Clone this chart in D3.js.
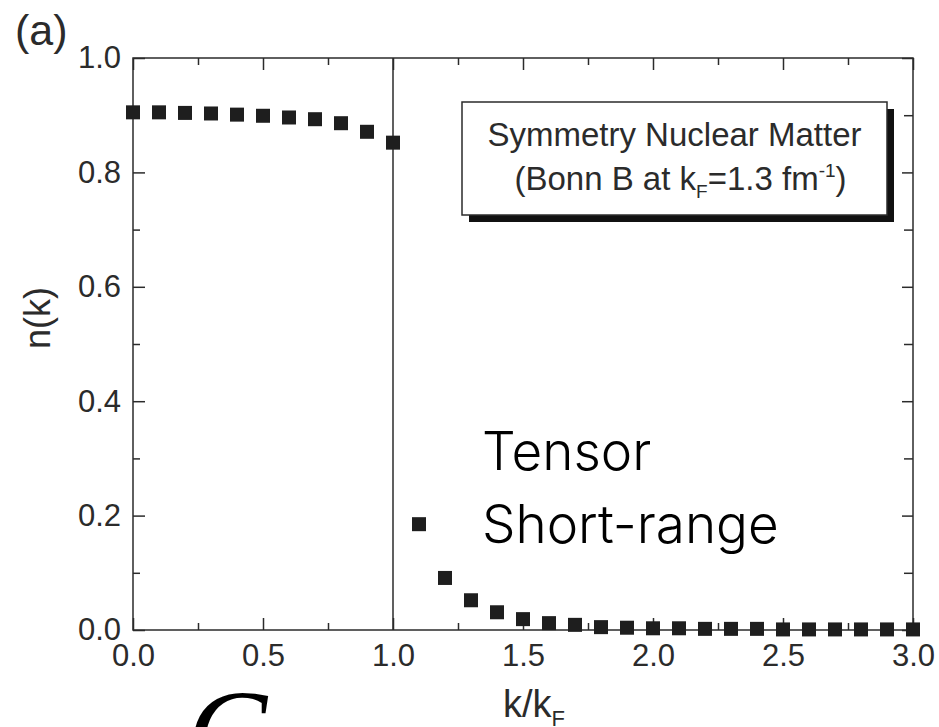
<!DOCTYPE html>
<html>
<head>
<meta charset="utf-8">
<script src="https://cdn.jsdelivr.net/npm/d3@7"></script>
<style>
  body { margin: 0; background: #fff; }
  svg { display: block; }
</style>
</head>
<body>
<div id="chart"></div>
<script>
// k/kF sample points and momentum distribution n(k)
const kValues = [0.0, 0.1, 0.2, 0.3, 0.4, 0.5, 0.6, 0.7, 0.8, 0.9, 1.0,
  1.1, 1.2, 1.3, 1.4, 1.5, 1.6, 1.7, 1.8, 1.9, 2.0,
  2.1, 2.2, 2.3, 2.4, 2.5, 2.6, 2.7, 2.8, 2.9, 3.0];
const nValues = [0.905, 0.905, 0.904, 0.903, 0.901, 0.899, 0.896, 0.893, 0.886, 0.871, 0.852,
  0.185, 0.091, 0.052, 0.031, 0.019, 0.012, 0.009, 0.005, 0.004, 0.003,
  0.003, 0.002, 0.002, 0.002, 0.001, 0.001, 0.001, 0.001, 0.001, 0.001];

const xMajor = [0, 0.5, 1.0, 1.5, 2.0, 2.5, 3.0];
const xMinor = [0.25, 0.75, 1.25, 1.75, 2.25, 2.75];
const yMajor = [0, 0.2, 0.4, 0.6, 0.8, 1.0];
const yMinor = [0.1, 0.3, 0.5, 0.7, 0.9];
const kF = 1.0; // fermi momentum line

const config = {
  width: 939,
  height: 727,
  plot: { left: 133, right: 913, top: 58, bottom: 630 },
  ink: '#2b2b2b',
  marker: 14,
};

const svg = d3.select('#chart')
  .append('svg')
  .attr('width', config.width)
  .attr('height', config.height);

const x = d3.scaleLinear().domain([0, 3]).range([config.plot.left, config.plot.right]);
const y = d3.scaleLinear().domain([0, 1]).range([config.plot.bottom, config.plot.top]);

const fmt = d3.format('.1f');

function addAxis(axis, tx, ty) {
  const g = svg.append('g')
    .attr('transform', `translate(${tx},${ty})`)
    .call(axis);
  g.select('.domain').remove();
  g.selectAll('.tick line').attr('stroke', config.ink).attr('stroke-width', 1.5);
  g.selectAll('.tick text')
    .attr('fill', config.ink)
    .style('font-family', 'Liberation Sans, Arial, sans-serif')
    .style('font-size', '31px');
  return g;
}

// bottom + top
addAxis(d3.axisBottom(x).tickValues(xMajor).tickSize(-12).tickPadding(14).tickFormat(fmt), 0, config.plot.bottom);
addAxis(d3.axisBottom(x).tickValues(xMinor).tickSize(-7).tickFormat(''), 0, config.plot.bottom);
addAxis(d3.axisTop(x).tickValues(xMajor).tickSize(-12).tickFormat(''), 0, config.plot.top);
addAxis(d3.axisTop(x).tickValues(xMinor).tickSize(-7).tickFormat(''), 0, config.plot.top);

// left + right
addAxis(d3.axisLeft(y).tickValues(yMajor).tickSize(-12).tickPadding(12).tickFormat(fmt), config.plot.left, 0);
addAxis(d3.axisLeft(y).tickValues(yMinor).tickSize(-7).tickFormat(''), config.plot.left, 0);
addAxis(d3.axisRight(y).tickValues(yMajor).tickSize(-11).tickFormat(''), config.plot.right, 0);
addAxis(d3.axisRight(y).tickValues(yMinor).tickSize(-9).tickFormat(''), config.plot.right, 0);

// frame
svg.append('rect')
  .attr('x', config.plot.left)
  .attr('y', config.plot.top)
  .attr('width', config.plot.right - config.plot.left)
  .attr('height', config.plot.bottom - config.plot.top)
  .attr('fill', 'none')
  .attr('stroke', config.ink)
  .attr('stroke-width', 1.5);

// vertical line at k = kF
svg.append('line')
  .attr('x1', x(kF)).attr('x2', x(kF))
  .attr('y1', y(1)).attr('y2', y(0))
  .attr('stroke', config.ink)
  .attr('stroke-width', 1.5);

// data squares
const points = kValues.map((k, i) => ({ k, n: nValues[i] }));
svg.append('g')
  .selectAll('rect')
  .data(points)
  .join('rect')
  .attr('x', (d) => x(d.k) - config.marker / 2)
  .attr('y', (d) => y(d.n) - config.marker / 2)
  .attr('width', config.marker)
  .attr('height', config.marker)
  .attr('fill', '#1e1e1e');

// legend box with shadow
const box = { x: 462, y: 102, w: 425, h: 113, shadow: 7 };
svg.append('rect')
  .attr('x', box.x + box.shadow).attr('y', box.y + box.shadow)
  .attr('width', box.w).attr('height', box.h)
  .attr('fill', '#111');
svg.append('rect')
  .attr('x', box.x).attr('y', box.y)
  .attr('width', box.w).attr('height', box.h)
  .attr('fill', '#fff')
  .attr('stroke', config.ink)
  .attr('stroke-width', 1.5);

const legendFont = 'Liberation Sans, Arial, sans-serif';
svg.append('text')
  .attr('x', box.x + box.w / 2)
  .attr('y', 146)
  .attr('text-anchor', 'middle')
  .attr('fill', config.ink)
  .style('font-family', legendFont)
  .style('font-size', '33px')
  .text('Symmetry Nuclear Matter');

const line2 = svg.append('text')
  .attr('x', box.x + box.w / 2 + 6)
  .attr('y', 190)
  .attr('text-anchor', 'middle')
  .attr('fill', config.ink)
  .style('font-family', legendFont)
  .style('font-size', '33px');
line2.append('tspan').text('(Bonn B at k');
line2.append('tspan').attr('dy', 8).style('font-size', '19px').text('F');
line2.append('tspan').attr('dy', -8).text('=1.3 fm');
line2.append('tspan').attr('dy', -13).style('font-size', '19px').text('-1');
line2.append('tspan').attr('dy', 13).text(')');

// axis titles
svg.append('text')
  .attr('transform', 'translate(50,318) rotate(-90)')
  .attr('text-anchor', 'middle')
  .attr('fill', config.ink)
  .style('font-family', legendFont)
  .style('font-size', '36px')
  .text('n(k)');

const xt = svg.append('text')
  .attr('x', 503)
  .attr('y', 717)
  .attr('fill', config.ink)
  .style('font-family', legendFont)
  .style('font-size', '38px');
xt.append('tspan').text('k/k');
xt.append('tspan').attr('dy', 9).style('font-size', '22px').text('F');

// panel label
svg.append('text')
  .attr('x', 15).attr('y', 45)
  .attr('fill', config.ink)
  .style('font-family', legendFont)
  .style('font-size', '43px')
  .text('(a)');

// annotations
const noteFont = 'Inter, Roboto, sans-serif';
svg.append('text')
  .attr('x', 482).attr('y', 470)
  .attr('fill', '#000')
  .style('font-family', noteFont)
  .style('font-weight', 300)
  .style('font-size', '53px')
  .text('Tensor');
svg.append('text')
  .attr('x', 482).attr('y', 543)
  .attr('fill', '#000')
  .style('font-family', noteFont)
  .style('font-weight', 300)
  .style('font-size', '53px')
  .text('Short-range');

svg.append('text')
  .attr('x', 187).attr('y', 773)
  .attr('fill', '#000')
  .style('font-family', 'Liberation Serif, Times New Roman, serif')
  .style('font-style', 'italic')
  .style('font-size', '120px')
  .text('C');
</script>
</body>
</html>
